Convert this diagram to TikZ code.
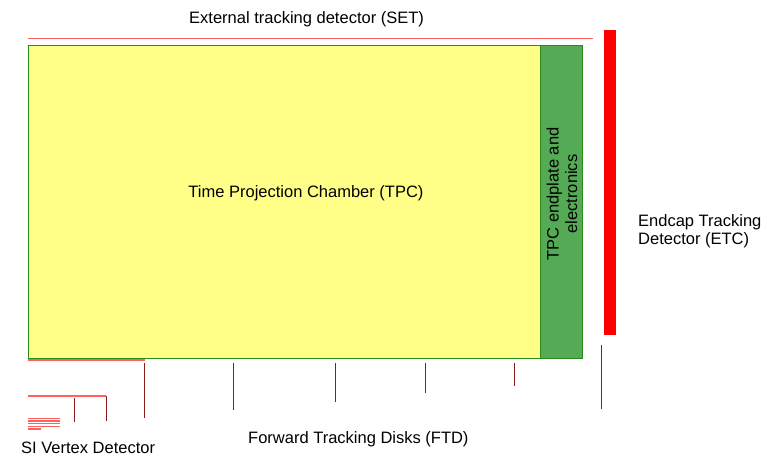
\documentclass[tikz,border=0pt]{standalone}
\usepackage{fontspec}
\setmainfont{Liberation Sans}
\definecolor{tpcyellow}{HTML}{FFFF88}
\definecolor{tpcgreen}{HTML}{55AA55}
\definecolor{framegreen}{HTML}{2A8A1A}
\definecolor{layerred}{HTML}{FF6060}
\definecolor{diskred}{HTML}{8B1A1A}
\begin{document}
\begin{tikzpicture}[x=1pt,y=-1pt,
  lbl/.style={font=\fontsize{16.5}{18.5}\selectfont, inner sep=0pt, align=left},
  barrel/.style={draw=layerred, line width=1.4pt},
  disk/.style={draw=diskred, line width=1pt}]
\useasboundingbox (0,0) rectangle (780,460);
% TPC volume and endplate
\node[draw=framegreen, fill=tpcyellow, line width=1.2pt, minimum width=512pt, minimum height=313pt, inner sep=0pt, anchor=north west] (tpc) at (28,45) {};
\node[draw=framegreen, fill=tpcgreen, line width=1.2pt, minimum width=42pt, minimum height=313pt, inner sep=0pt, anchor=north west] (endplate) at (540,45) {};
\node[lbl] (tpclbl) at (306,193) {Time Projection Chamber (TPC)};
\node[lbl, rotate=90, align=center] (eplbl) at (562,194) {TPC endplate and\\electronics};
% SET and ETC
\coordinate (setA) at (28,38.5);
\coordinate (setB) at (593,38.5);
\draw[barrel, line width=1.2pt] (setA) -- (setB);
\node[lbl, anchor=base west] (setlbl) at (189,24) {External tracking detector (SET)};
\node[fill=red, minimum width=12pt, minimum height=305pt, inner sep=0pt, anchor=north west] (etc) at (603.5,30) {};
\node[lbl, anchor=west] (etclbl) at (638,231) {Endcap Tracking\\Detector (ETC)};
% Silicon inner layers
\coordinate (l1a) at (28,360); \coordinate (l1b) at (145,360);
\coordinate (l2a) at (28,396); \coordinate (l2b) at (106,396);
\draw[barrel] (l1a) -- (l1b);
\draw[barrel] (l2a) -- (l2b);
\foreach \yy in {418.3,421,423.7,426.3}
  \draw[barrel, line width=1.1pt] (28,\yy) -- (60,\yy);
\draw[barrel, line width=1.1pt] (28,429) -- (41,429);
\draw[disk] (144,363) -- (144,418);
\draw[disk] (74,398) -- (74,422);
\draw[disk] (106,396) -- (106,421);
\node[lbl, anchor=base west] (vtxlbl) at (21,453) {SI Vertex Detector};
% Forward disks
\draw[disk] (233,363) -- (233,410);
\draw[disk] (335,363) -- (335,402);
\draw[disk] (425,363) -- (425,393);
\draw[disk] (514,363) -- (514,386);
\draw[disk] (601.5,345) -- (601.5,409);
\node[lbl, anchor=base west] (ftdlbl) at (248,443) {Forward Tracking Disks (FTD)};
\end{tikzpicture}
\end{document}
